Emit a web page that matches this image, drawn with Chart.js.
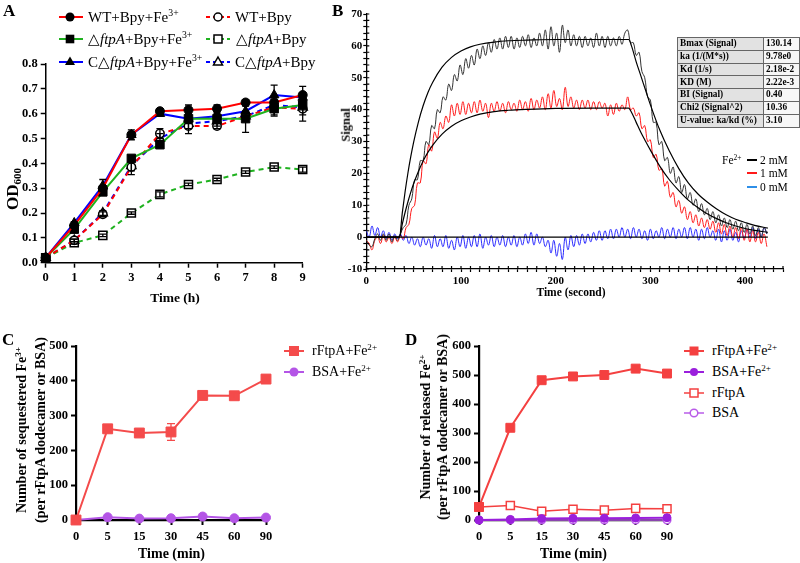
<!DOCTYPE html>
<html>
<head>
<meta charset="utf-8">
<script src="https://cdn.jsdelivr.net/npm/chart.js@4.4.1/dist/chart.umd.min.js"></script>
<style>
  body { margin: 0; background: #fff; }
  #page { position: relative; width: 800px; height: 563px; overflow: hidden; background: #fff;
          font-family: 'Liberation Serif', 'Times New Roman', serif; color: #000; }
  canvas { position: absolute; }
  .lbl { position: absolute; white-space: nowrap; line-height: 1; }
  .panel { font-weight: bold; font-size: 17px; }
  .rot { transform: translate(-50%, -50%) rotate(-90deg); text-align: center; }
  .ctr { transform: translate(-50%, -50%); }
  .leg { position: absolute; white-space: nowrap; }
  sup { font-size: 0.65em; line-height: 0; vertical-align: 0.6em; }
  sub { font-size: 0.65em; line-height: 0; vertical-align: -0.3em; }
  svg { position: absolute; overflow: visible; }
  table.fit { position: absolute; left: 677px; top: 37px; border-collapse: collapse;
              font-weight: bold; font-size: 9.3px; }
  table.fit td { border: 1px solid #666; height: 11.8px; padding: 0 2px; line-height: 1; }
  table.fit td:first-child { background: #e2e2e2; width: 82px; }
  table.fit td:last-child { background: #f7f7f7; width: 31px; }
</style>
</head>
<body>
<div id="page">
  <canvas id="chartA" width="320" height="300" style="left:0;top:0"></canvas>
  <canvas id="chartB" width="470" height="300" style="left:330px;top:0"></canvas>
  <canvas id="chartC" width="280" height="263" style="left:0;top:300px"></canvas>
  <canvas id="chartD" width="280" height="263" style="left:400px;top:300px"></canvas>

  <div class="lbl panel" style="left:3px;top:2px">A</div>
  <div class="lbl panel" style="left:332px;top:2px">B</div>
  <div class="lbl panel" style="left:2px;top:331px">C</div>
  <div class="lbl panel" style="left:405px;top:331px">D</div>

  <!-- panel A titles and legend -->
  <div class="lbl rot" style="left:12px;top:189px;font-weight:bold;font-size:17px">OD<sub>600</sub></div>
  <div class="lbl ctr" style="left:175px;top:298px;font-weight:bold;font-size:13.5px">Time (h)</div>

  <svg style="left:58px;top:10.5px" width="26" height="12"><line x1="1" y1="6" x2="25" y2="6" stroke="#ff0000" stroke-width="2"/><circle cx="12" cy="6" r="4.5" fill="#000"/></svg>
  <svg style="left:58px;top:33px" width="26" height="12"><line x1="1" y1="6" x2="25" y2="6" stroke="#1fb21f" stroke-width="2"/><rect x="7.7" y="1.7" width="8.6" height="8.6" fill="#000"/></svg>
  <svg style="left:58px;top:55.5px" width="26" height="12"><line x1="1" y1="6" x2="25" y2="6" stroke="#0000ff" stroke-width="2"/><polygon points="12,0.5 17,9 7,9" fill="#000"/></svg>
  <svg style="left:205px;top:10.5px" width="26" height="12"><line x1="1" y1="6" x2="25" y2="6" stroke="#ff0000" stroke-width="2" stroke-dasharray="4 3"/><circle cx="13" cy="6" r="4" fill="#fff" stroke="#000" stroke-width="1.5"/></svg>
  <svg style="left:205px;top:33px" width="26" height="12"><line x1="1" y1="6" x2="25" y2="6" stroke="#1fb21f" stroke-width="2" stroke-dasharray="4 3"/><rect x="9" y="2" width="8" height="8" fill="#fff" stroke="#000" stroke-width="1.5"/></svg>
  <svg style="left:205px;top:55.5px" width="26" height="12"><line x1="1" y1="6" x2="25" y2="6" stroke="#0000ff" stroke-width="2" stroke-dasharray="4 3"/><polygon points="13,1 17.5,9 8.5,9" fill="#fff" stroke="#000" stroke-width="1.5"/></svg>

  <div class="leg" style="left:88px;top:7.5px;font-size:15px;line-height:18px">WT+Bpy+Fe<sup>3+</sup></div>
  <div class="leg" style="left:88px;top:30px;font-size:15px;line-height:18px">△<i>ftpA</i>+Bpy+Fe<sup>3+</sup></div>
  <div class="leg" style="left:88px;top:52.5px;font-size:15px;line-height:18px">C△<i>ftpA</i>+Bpy+Fe<sup>3+</sup></div>
  <div class="leg" style="left:235px;top:7.5px;font-size:15px;line-height:18px">WT+Bpy</div>
  <div class="leg" style="left:236px;top:30px;font-size:15px;line-height:18px">△<i>ftpA</i>+Bpy</div>
  <div class="leg" style="left:235px;top:52.5px;font-size:15px;line-height:18px">C△<i>ftpA</i>+Bpy</div>

  <!-- panel B titles, legend, fit table -->
  <div class="lbl rot" style="left:346px;top:124.5px;font-weight:bold;font-size:12.5px">Signal</div>
  <div class="lbl ctr" style="left:571px;top:293px;font-weight:bold;font-size:11.5px">Time (second)</div>

  <div class="leg" style="left:722px;top:153px;font-size:11.5px;line-height:14px">Fe<sup>2+</sup></div>
  <svg style="left:747px;top:154px" width="11" height="12"><line x1="0" y1="6" x2="10" y2="6" stroke="#000" stroke-width="2"/></svg>
  <svg style="left:747px;top:167.3px" width="11" height="12"><line x1="0" y1="6" x2="10" y2="6" stroke="#ff1a1a" stroke-width="2"/></svg>
  <svg style="left:747px;top:180.7px" width="11" height="12"><line x1="0" y1="6" x2="10" y2="6" stroke="#2e8fe8" stroke-width="2"/></svg>
  <div class="leg" style="left:760px;top:153px;font-size:11.5px;line-height:14px">2 mM</div>
  <div class="leg" style="left:760px;top:166.3px;font-size:11.5px;line-height:14px">1 mM</div>
  <div class="leg" style="left:760px;top:179.7px;font-size:11.5px;line-height:14px">0 mM</div>

  <table class="fit">
    <tr><td>Bmax (Signal)</td><td>130.14</td></tr>
    <tr><td>ka (1/(M*s))</td><td>9.78e0</td></tr>
    <tr><td>Kd (1/s)</td><td>2.18e-2</td></tr>
    <tr><td>KD (M)</td><td>2.22e-3</td></tr>
    <tr><td>BI (Signal)</td><td>0.40</td></tr>
    <tr><td>Chi2 (Signal^2)</td><td>10.36</td></tr>
    <tr><td>U-value: ka/kd (%)</td><td>3.10</td></tr>
  </table>

  <!-- panel C titles and legend -->
  <div class="lbl rot" style="left:30.5px;top:430px;font-weight:bold;font-size:14px;line-height:19px">Number of sequestered Fe<sup>3+</sup><br>(per rFtpA dodecamer or BSA)</div>
  <div class="lbl ctr" style="left:171.5px;top:554px;font-weight:bold;font-size:14px">Time (min)</div>
  <svg style="left:284px;top:345px" width="20" height="12"><line x1="0" y1="6" x2="20" y2="6" stroke="#f44b4b" stroke-width="2"/><rect x="5" y="1" width="10" height="10" fill="#f44b4b"/></svg>
  <svg style="left:284px;top:366px" width="20" height="12"><line x1="0" y1="6" x2="20" y2="6" stroke="#b455e6" stroke-width="2"/><circle cx="10" cy="6" r="4.5" fill="#b455e6"/></svg>
  <div class="leg" style="left:312px;top:342px;font-size:14px;line-height:18px">rFtpA+Fe<sup>2+</sup></div>
  <div class="leg" style="left:312px;top:363px;font-size:14px;line-height:18px">BSA+Fe<sup>2+</sup></div>

  <!-- panel D titles and legend -->
  <div class="lbl rot" style="left:434px;top:427px;font-weight:bold;font-size:14px;line-height:17px">Number of released Fe<sup>2+</sup><br>(per rFtpA dodecamer or BSA)</div>
  <div class="lbl ctr" style="left:573.5px;top:554px;font-weight:bold;font-size:14px">Time (min)</div>
  <svg style="left:684px;top:345px" width="20" height="12"><line x1="0" y1="6" x2="20" y2="6" stroke="#f44040" stroke-width="2"/><rect x="5.5" y="1.5" width="9" height="9" fill="#f44040"/></svg>
  <svg style="left:684px;top:366px" width="20" height="12"><line x1="0" y1="6" x2="20" y2="6" stroke="#9a1fdc" stroke-width="2"/><circle cx="10" cy="6" r="4" fill="#9a1fdc"/></svg>
  <svg style="left:684px;top:386.5px" width="20" height="12"><line x1="0" y1="6" x2="20" y2="6" stroke="#f44040" stroke-width="1.5"/><rect x="6" y="2" width="8" height="8" fill="#fff" stroke="#f44040" stroke-width="1.5"/></svg>
  <svg style="left:684px;top:407px" width="20" height="12"><line x1="0" y1="6" x2="20" y2="6" stroke="#b95ce8" stroke-width="1.5"/><circle cx="10" cy="6" r="3.8" fill="#fff" stroke="#b95ce8" stroke-width="1.5"/></svg>
  <div class="leg" style="left:712px;top:342px;font-size:14px;line-height:18px">rFtpA+Fe<sup>2+</sup></div>
  <div class="leg" style="left:712px;top:363px;font-size:14px;line-height:18px">BSA+Fe<sup>2+</sup></div>
  <div class="leg" style="left:712px;top:383.5px;font-size:14px;line-height:18px">rFtpA</div>
  <div class="leg" style="left:712px;top:404px;font-size:14px;line-height:18px">BSA</div>
</div>

<script>
// ---------- panel A: growth curves (OD600) ----------
var hoursA = [0, 1, 2, 3, 4, 5, 6, 7, 8, 9];
var wtFe   = [0.02, 0.15, 0.30, 0.515, 0.61, 0.615, 0.62, 0.645, 0.645, 0.675];
var dFe    = [0.02, 0.135, 0.285, 0.42, 0.475, 0.58, 0.58, 0.58, 0.62, 0.635];
var cFe    = [0.02, 0.16, 0.31, 0.515, 0.60, 0.58, 0.59, 0.61, 0.675, 0.665];
var wt     = [0.02, 0.09, 0.195, 0.385, 0.52, 0.55, 0.55, 0.59, 0.625, 0.62];
var dNo    = [0.02, 0.08, 0.11, 0.20, 0.275, 0.315, 0.335, 0.365, 0.385, 0.375];
var cNo    = [0.02, 0.09, 0.20, 0.39, 0.50, 0.56, 0.57, 0.59, 0.635, 0.625];
var wtFeErr = [0, 0.005, 0.01, 0.02, 0.01, 0.02, 0.015, 0.01, 0.02, 0.035];
var dFeErr  = [0, 0.005, 0.01, 0.01, 0.01, 0.02, 0.02, 0.055, 0.03, 0.02];
var cFeErr  = [0, 0.005, 0.025, 0.01, 0.01, 0.01, 0.02, 0.02, 0.04, 0.02];
var wtErr   = [0, 0.005, 0.01, 0.03, 0.02, 0.03, 0.01, 0.02, 0.03, 0.05];
var dNoErr  = [0, 0.005, 0.005, 0.005, 0.01, 0.005, 0.005, 0.005, 0.005, 0.01];
var cNoErr  = [0, 0.005, 0.01, 0.02, 0.02, 0.02, 0.02, 0.02, 0.03, 0.03];
var odTicks = [0, 0.1, 0.2, 0.3, 0.4, 0.5, 0.6, 0.7, 0.8];

// ---------- panel B: sensorgram, sampled every 3 s ----------
var timeB = [0,3,6,9,12,15,18,21,24,27,
  30,33,36,39,42,45,48,51,54,57,
  60,63,66,69,72,75,78,81,84,87,
  90,93,96,99,102,105,108,111,114,117,
  120,123,126,129,132,135,138,141,144,147,
  150,153,156,159,162,165,168,171,174,177,
  180,183,186,189,192,195,198,201,204,207,
  210,213,216,219,222,225,228,231,234,237,
  240,243,246,249,252,255,258,261,264,267,
  270,273,276,279,282,285,288,291,294,297,
  300,303,306,309,312,315,318,321,324,327,
  330,333,336,339,342,345,348,351,354,357,
  360,363,366,369,372,375,378,381,384,387,
  390,393,396,399,402,405,408,411,414,417,
  420,423];
var sig2mM = [-1,-2.5,-3,-0.5,1,-1,1,-1,1,-1.5,
  0.5,-1,1,3,4,10,12,18,18,24,
  24,30,29,35,34,40,39,44,43,48,
  46,51,49,54,51,56,53,57,54,59,
  56,60,57,61,58,62,59,62.5,59,63,
  59.5,63,59,62.5,59.5,63,60,63.5,59.5,62.5,
  60,64,60,65,59,66,60,64,58,66.5,
  61,65,60,63.5,60,63,59.5,63,60,62.5,
  59.5,64,60,63,59.5,63,60,62.5,60,63,
  60.5,64,65,61,61,57,58,52,50,44,
  43,36,36,29,30,24,25,20,22,17,
  19,14,16.5,12,14,10,12,8,10.5,7,
  9,5.5,8,4.5,7,3.5,6,3,5.5,2.5,
  5,2,4.5,1.5,4,1,3.5,0.5,3,0,
  3,1];
var sig1mM = [-1,-2,-4,-1,0,-2,0.5,-1.5,0,-2,
  0,-1.5,0.5,-0.5,3,4,9,10,17,17,
  24,23,29,27,33,31,36,34,38,36,
  41.5,38,42,38.5,42.5,38.5,42,39,42.5,39,
  43,39.5,42,37.5,42,39.5,42.5,39.5,42,39,
  42.5,40,42,39.5,43,40,42.5,39.5,43.5,40,
  43,40.5,44,40,45,40.5,46,41,43.5,40,
  47,41,44,40.5,43,40,43,40.5,43,40,
  42.5,40,42.5,40.5,42,38,41.5,38.5,42,39.5,
  41.5,40,44,40,40.5,38,39,34,35,30,
  30.5,25,26,21,21.5,16,17.5,12.5,14,9.5,
  11.5,7.5,9.5,5.5,8,4.5,7,3.5,6,3,
  5.5,2.5,5,1.5,4.5,1,4,0.5,3.5,0,
  3,-0.5,3,-1,2.5,-1.5,2,-1.5,1.5,-2,
  1,-3];
var sig0mM = [2,0,3.5,0.5,3,0,2,-0.5,1.5,-1,
  1,-0.5,1,-1,0.5,-2,0,-2.5,-0.5,-3,
  0,-2.5,-0.5,-3.5,0.5,-3,-0.5,-3,0.5,-3.5,
  -1,-4,0,-3,0.5,-3.5,0,-3,0.5,-3,
  1,-3.5,0,-2.5,0.5,-3,0,-2.5,0.5,-3,
  0,-2.5,0.5,-3,0,-2.5,1,-2,1.5,-2.5,
  1,-2,0,-3,-1,-5,-1,-6,-2,-7,
  0,-4,0.5,-3,0.5,-2.5,1,-2,1,-1.5,
  1.5,-1,2,-1,2,-0.5,2.5,-0.5,2.5,0,
  3,0,2.5,-0.5,3,0,2.5,-0.5,2,-1,
  2.5,-0.5,2,0,3,-0.5,2.5,0,3,-0.5,
  2.5,0,3,-0.5,3,0,2.5,-1,2.5,-0.5,
  3,0,2,-1,2.5,-1.5,2,-1,2.5,-1,
  1.5,-1.5,2,-0.5,2.5,0,3,-0.5,2.5,0,
  3,1];
// fitted curves (black)
var fitTime = [0,35,38,41,44,47,50,55,60,65,70,80,90,100,110,120,135,150,170,200,240,277,
  280,285,290,295,300,310,320,330,340,350,360,370,380,390,400,410,424];
var fit2mM = [0,0,7.6,14.3,20.2,25.3,29.8,36.1,41.2,45.3,48.5,53.3,56.4,58.4,59.7,60.5,61.2,61.6,61.8,62,62,62,
  60,55,50.5,46,41.5,33.5,27,21.5,17,13.6,11,8.8,7,5.6,4.6,3.7,2.8];
var fit1mM = [0,0,4.1,7.8,11.1,14.1,16.8,20.6,23.9,26.6,28.8,32.3,34.8,36.5,37.7,38.6,39.4,39.8,40.1,40.4,40.5,40.5,
  39.2,36,32.8,30,27.3,22.2,18,14.6,11.6,9.3,7.3,5.8,4.5,3.5,2.7,2.1,1.5];
var fit0Time = [0, 424];
var fit0mM = [0, 0];

// ---------- panels C and D ----------
var minLabels = ['0', '5', '15', '30', '45', '60', '90'];
var seqFtpA    = [0, 262, 250, 253, 358, 357, 405];
var seqFtpAErr = [0, 8, 5, 24, 8, 8, 5];
var seqBSA     = [0, 8, 4, 5, 10, 5, 7];
var relFtpAFe  = [45, 318, 482, 495, 500, 522, 505];
var relBSAFe   = [0, 2, 5, 6, 6, 7, 8];
var relFtpA    = [45, 50, 30, 37, 34, 40, 39];
var relBSA     = [0, 0, 0, 0, 0, 0, 0];

Chart.defaults.font.family = "'Liberation Serif', 'Times New Roman', serif";
Chart.defaults.color = '#000';
Chart.defaults.animation = false;

function xy(xs, ys) {
    return ys.map(function (v, i) { return { x: xs[i], y: v }; });
}

// vertical error bars with caps, drawn through the y scale
var errorBars = {
    id: 'errorBars',
    afterDatasetsDraw: function (chart) {
        var ctx = chart.ctx;
        chart.data.datasets.forEach(function (ds, i) {
            if (!ds.errors) return;
            var meta = chart.getDatasetMeta(i);
            var ys = chart.scales[meta.yAxisID];
            ctx.save();
            ctx.strokeStyle = ds.errorColor || '#000';
            ctx.lineWidth = 1.3;
            meta.data.forEach(function (pt, j) {
                var e = ds.errors[j];
                if (!e) return;
                var d = ds.data[j];
                var v = typeof d === 'object' ? d.y : d;
                var top = ys.getPixelForValue(v + e), bot = ys.getPixelForValue(v - e);
                var w = ds.capWidth || 4;
                ctx.beginPath();
                ctx.moveTo(pt.x, top); ctx.lineTo(pt.x, bot);
                ctx.moveTo(pt.x - w, top); ctx.lineTo(pt.x + w, top);
                ctx.moveTo(pt.x - w, bot); ctx.lineTo(pt.x + w, bot);
                ctx.stroke();
            });
            ctx.restore();
        });
    }
};

// panel B ticks also reach a little inside the plot
var innerTicks = {
    id: 'innerTicks',
    afterDraw: function (chart) {
        var ctx = chart.ctx, a = chart.chartArea, sx = chart.scales.x, sy = chart.scales.y;
        ctx.save();
        ctx.strokeStyle = '#000';
        ctx.lineWidth = 1.2;
        ctx.beginPath();
        sx.ticks.forEach(function (t) {
            var px = sx.getPixelForValue(t.value);
            ctx.moveTo(px, a.bottom); ctx.lineTo(px, a.bottom - 3);
        });
        sy.ticks.forEach(function (t) {
            var py = sy.getPixelForValue(t.value);
            ctx.moveTo(a.left, py); ctx.lineTo(a.left + 3, py);
        });
        ctx.stroke();
        ctx.restore();
    }
};

function axis(opts) {
    var base = {
        grid: { drawOnChartArea: false, drawTicks: true, tickLength: 5, tickColor: '#000', tickWidth: 1.5 },
        border: { color: '#000', width: 1.5 },
        ticks: { font: { size: 12.5, weight: 'bold' }, padding: 3, color: '#000', autoSkip: false, maxRotation: 0 }
    };
    return Object.assign(base, opts);
}

function growth(label, data, err, color, dashed, style, radius, filled) {
    return {
        label: label,
        data: xy(hoursA, data),
        errors: err, errorColor: '#000', capWidth: 3.5,
        borderColor: color, borderWidth: 2,
        borderDash: dashed ? [5, 4] : [],
        pointStyle: style, pointRadius: radius,
        pointBackgroundColor: filled ? '#000' : '#fff',
        pointBorderColor: '#000', pointBorderWidth: filled ? 1 : 1.5,
        tension: 0, clip: false
    };
}

new Chart(document.getElementById('chartA'), {
    type: 'line',
    data: {
        datasets: [
            growth('WT+Bpy+Fe3+', wtFe, wtFeErr, '#ff0000', false, 'circle', 4.5, true),
            growth('ΔftpA+Bpy+Fe3+', dFe, dFeErr, '#1fb21f', false, 'rect', 6, true),
            growth('CΔftpA+Bpy+Fe3+', cFe, cFeErr, '#0000ff', false, 'triangle', 5.5, true),
            growth('WT+Bpy', wt, wtErr, '#ff0000', true, 'circle', 4.2, false),
            growth('ΔftpA+Bpy', dNo, dNoErr, '#1fb21f', true, 'rect', 5.7, false),
            growth('CΔftpA+Bpy', cNo, cNoErr, '#0000ff', true, 'triangle', 5.2, false)
        ]
    },
    options: {
        responsive: false,
        layout: { padding: { top: 64, right: 17.3, left: 0, bottom: 0 } },
        plugins: { legend: { display: false }, tooltip: { enabled: false } },
        scales: {
            x: axis({ type: 'linear', min: 0, max: 9,
                afterFit: function (s) { s.height = 37.3; },
                afterBuildTicks: function (s) { s.ticks = hoursA.map(function (v) { return { value: v }; }); } }),
            y: axis({ type: 'linear', min: 0, max: 0.8,
                afterFit: function (s) { s.width = 45.7; },
                afterBuildTicks: function (s) { s.ticks = odTicks.map(function (v) { return { value: v }; }); } })
        }
    },
    plugins: [errorBars]
});
Chart.getChart('chartA').options.scales.y.ticks.callback = function (v) { return v.toFixed(1); };
Chart.getChart('chartA').update();

// panel B
function trace(data, times, color, width) {
    return { data: xy(times, data), borderColor: color, borderWidth: width, pointRadius: 0,
             tension: 0.4, fill: false };
}
new Chart(document.getElementById('chartB'), {
    type: 'line',
    data: {
        datasets: [
            Object.assign(trace(fit2mM, fitTime, '#000', 1.2), { cubicInterpolationMode: 'monotone' }),
            Object.assign(trace(fit1mM, fitTime, '#000', 1.2), { cubicInterpolationMode: 'monotone' }),
            trace(fit0mM, fit0Time, '#000', 1.4),
            trace(sig2mM, timeB, '#333', 1),
            trace(sig1mM, timeB, '#ff1a1a', 1),
            trace(sig0mM, timeB, '#2a2aff', 1)
        ]
    },
    options: {
        responsive: false,
        layout: { padding: { top: 14, right: 17, left: 0, bottom: 0 } },
        plugins: { legend: { display: false }, tooltip: { enabled: false } },
        scales: {
            x: axis({ type: 'linear', min: 0, max: 440,
                grid: { drawOnChartArea: false, tickLength: 3, tickColor: '#000', tickWidth: 1.2 },
                border: { color: '#000', width: 1.3 },
                ticks: { stepSize: 10, autoSkip: false, maxRotation: 0, padding: 2.5,
                         font: { size: 11, weight: 'bold' },
                         callback: function (v) { return v % 100 === 0 ? v : ''; } },
                afterFit: function (s) { s.height = 31; } }),
            y: axis({ type: 'linear', min: -10, max: 70,
                grid: { drawOnChartArea: false, tickLength: 3, tickColor: '#000', tickWidth: 1.2 },
                border: { color: '#000', width: 1.3 },
                ticks: { stepSize: 2, autoSkip: false, padding: 1,
                         font: { size: 11, weight: 'bold' },
                         callback: function (v) { return v % 10 === 0 ? v : ''; } },
                afterFit: function (s) { s.width = 36.3; } })
        }
    },
    plugins: [innerTicks]
});

// panels C and D
function uptake(label, data, color, style, radius, filled, err) {
    return {
        label: label, data: data,
        errors: err, errorColor: color, capWidth: 4,
        borderColor: color, borderWidth: 2,
        pointStyle: style, pointRadius: radius,
        pointBackgroundColor: filled ? color : '#fff',
        pointBorderColor: color, pointBorderWidth: filled ? 1 : 1.5,
        tension: 0, clip: false
    };
}
function ironOptions(yMax, yWidth, padRight) {
    var thick = {
        grid: { drawOnChartArea: false, tickLength: 5, tickColor: '#000', tickWidth: 2 },
        border: { color: '#000', width: 2.2 }
    };
    return {
        responsive: false,
        layout: { padding: { top: 46, right: padRight, left: 0, bottom: 0 } },
        plugins: { legend: { display: false }, tooltip: { enabled: false } },
        scales: {
            x: axis(Object.assign({ type: 'category', offset: false,
                ticks: { font: { size: 12.5, weight: 'bold' }, padding: 4, autoSkip: false, maxRotation: 0 },
                afterFit: function (s) { s.height = 43; } }, thick)),
            y: axis(Object.assign({ type: 'linear', min: 0, max: yMax,
                ticks: { stepSize: 100, font: { size: 12.5, weight: 'bold' }, padding: 3 },
                afterFit: function (s) { s.width = yWidth; } }, thick))
        }
    };
}

new Chart(document.getElementById('chartC'), {
    type: 'line',
    data: {
        labels: minLabels,
        datasets: [
            uptake('rFtpA+Fe2+', seqFtpA, '#f44b4b', 'rect', 7, true, seqFtpAErr),
            uptake('BSA+Fe2+', seqBSA, '#b455e6', 'circle', 4.5, true)
        ]
    },
    options: ironOptions(500, 76, 14),
    plugins: [errorBars]
});

new Chart(document.getElementById('chartD'), {
    type: 'line',
    data: {
        labels: minLabels,
        datasets: [
            uptake('rFtpA+Fe2+', relFtpAFe, '#f44040', 'rect', 6.3, true),
            uptake('BSA+Fe2+', relBSAFe, '#9a1fdc', 'circle', 4, true),
            Object.assign(uptake('rFtpA', relFtpA, '#f44040', 'rect', 5.7, false), { borderWidth: 1.5 }),
            Object.assign(uptake('BSA', relBSA, '#b95ce8', 'circle', 3.8, false), { borderWidth: 1.5 })
        ]
    },
    options: ironOptions(600, 79, 13),
    plugins: [errorBars]
});
</script>
</body>
</html>
